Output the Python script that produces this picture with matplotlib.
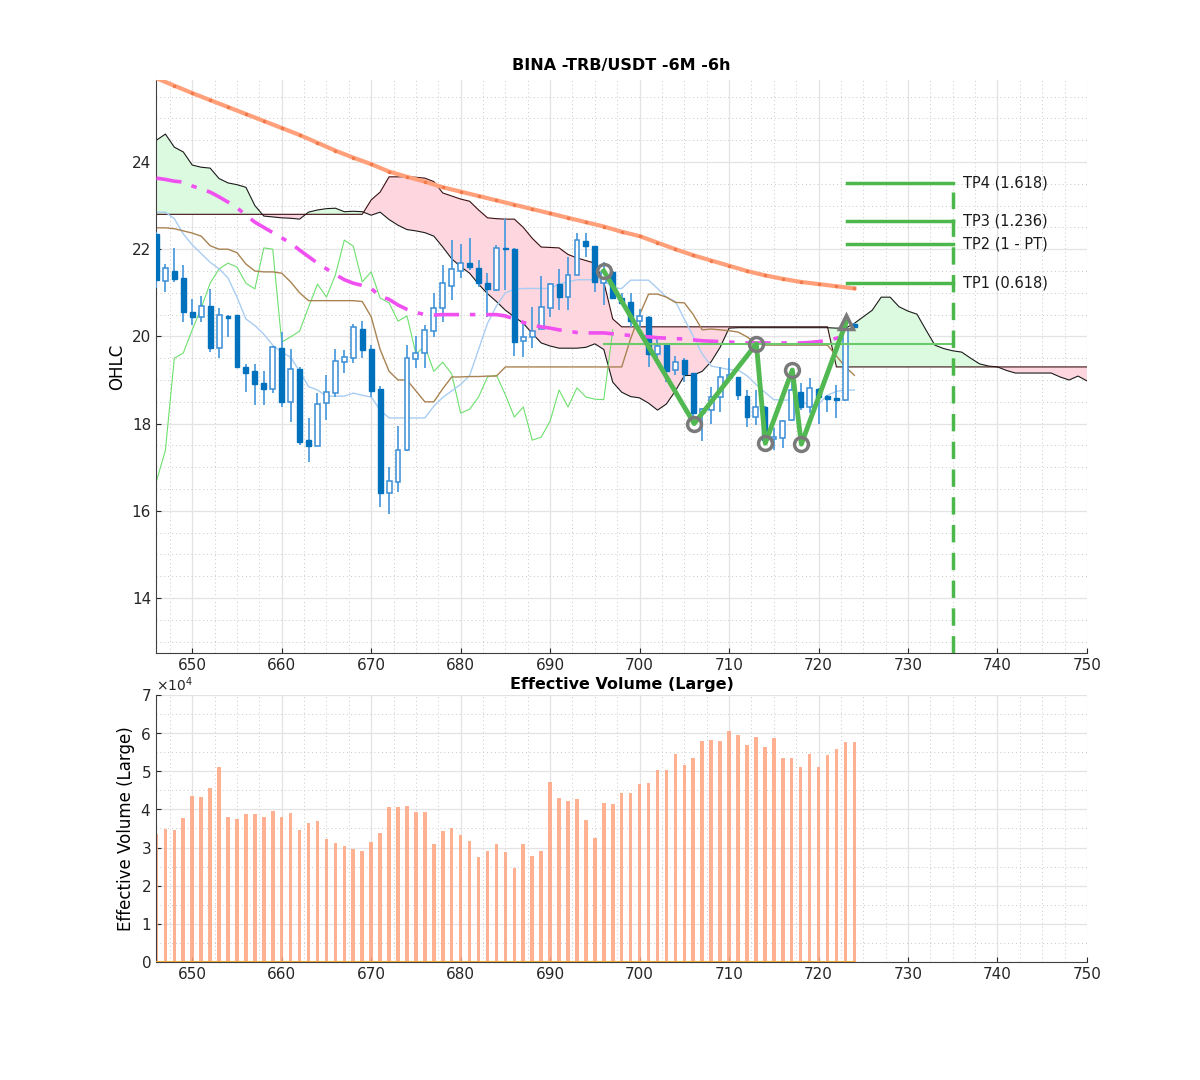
import matplotlib
matplotlib.use("Agg")
import matplotlib.pyplot as plt
import numpy as np
from matplotlib.ticker import MultipleLocator, ScalarFormatter

# candles 646..724
bar_x = np.arange(646, 725)
opens = [22.35, 21.27, 21.5, 21.34, 20.56, 20.45, 20.7, 19.73, 20.47, 20.49,
         19.3, 19.2, 18.93, 18.79, 19.73, 18.5, 19.25, 17.62, 17.49, 18.47,
         18.7, 19.41, 19.5, 20.17, 19.71, 18.79, 16.41, 16.66, 17.39, 19.48,
         19.62, 20.12, 20.65, 21.16, 21.5, 21.68, 21.57, 21.22, 21.06, 22.03,
         22.0, 19.9, 19.99, 20.17, 20.65, 21.2, 20.9, 21.41, 22.19, 22.07,
         21.22, 21.48, 20.88, 20.79, 20.35, 20.45, 19.6, 19.8, 19.23, 19.46,
         19.16, 18.24, 18.31, 18.61, 19.05, 19.07, 18.63, 18.15, 18.38, 17.64,
         17.67, 18.08, 18.72, 18.38, 18.8, 18.63, 18.57, 18.54, 20.28]
highs = [22.4, 21.66, 22.03, 21.64, 20.86, 20.93, 21.09, 20.65, 20.48, 20.5,
         19.37, 19.37, 19.2, 19.77, 20.1, 19.71, 19.3, 18.13, 18.7, 19.11,
         19.71, 19.69, 20.28, 20.35, 19.8, 18.86, 17.0, 17.94, 19.8, 20.0,
         20.26, 21.0, 21.64, 22.21, 22.12, 22.26, 21.75, 21.45, 22.1, 22.69,
         22.02, 20.33, 20.67, 21.38, 21.22, 21.55, 21.82, 22.37, 22.37, 22.08,
         21.71, 21.5, 21.0, 21.0, 20.63, 20.46, 19.96, 19.82, 19.55, 19.5,
         19.17, 18.35, 18.84, 19.3, 19.5, 19.08, 18.77, 18.77, 18.4, 17.9,
         18.08, 19.0, 18.93, 19.05, 18.82, 18.66, 18.88, 20.26, 20.3]
lows = [21.1, 21.02, 21.25, 20.33, 20.26, 20.33, 19.64, 19.5, 19.99, 19.28,
        18.72, 18.43, 18.43, 18.7, 18.38, 18.04, 17.51, 17.12, 17.48, 18.08,
        18.61, 19.16, 19.39, 19.5, 18.61, 16.09, 15.93, 16.43, 17.38, 19.28,
        19.28, 19.99, 20.33, 20.83, 21.34, 21.52, 21.13, 20.45, 21.05, 21.06,
        19.55, 19.53, 19.73, 20.16, 20.45, 20.6, 20.6, 21.4, 21.82, 21.02,
        20.72, 20.85, 20.72, 20.22, 20.22, 19.3, 19.39, 18.95, 19.11, 18.95,
        18.0, 17.6, 18.0, 18.27, 19.04, 18.54, 17.92, 17.97, 17.55, 17.39,
        17.44, 18.07, 18.31, 18.24, 18.0, 18.27, 18.13, 18.52, 20.2]
closes = [21.3, 21.57, 21.32, 20.56, 20.45, 20.7, 19.73, 20.49, 20.43, 19.3,
          19.16, 18.9, 18.79, 19.76, 18.5, 19.25, 17.58, 17.49, 18.45, 18.72,
          19.44, 19.53, 20.22, 19.69, 18.75, 16.41, 16.68, 17.39, 19.5, 19.62,
          20.15, 20.65, 21.22, 21.55, 21.68, 21.59, 21.22, 21.09, 22.03, 22.0,
          19.87, 19.99, 20.12, 20.67, 21.2, 20.9, 21.41, 22.21, 22.07, 21.25,
          21.48, 20.88, 20.77, 20.35, 20.47, 19.6, 19.78, 19.2, 19.41, 19.14,
          18.24, 18.33, 18.61, 19.07, 19.11, 18.66, 18.15, 18.38, 17.62, 17.69,
          18.06, 18.77, 18.38, 18.82, 18.61, 18.56, 18.55, 20.15, 20.22]

volume = [3.35, 3.48, 3.46, 3.77, 4.36, 4.32, 4.57, 5.10, 3.79, 3.76,
          3.87, 3.88, 3.81, 3.95, 3.79, 3.90, 3.46, 3.64, 3.70, 3.22,
          3.13, 3.05, 2.97, 2.92, 3.15, 3.37, 4.06, 4.05, 4.08, 3.92,
          3.92, 3.08, 3.44, 3.52, 3.33, 3.17, 2.76, 2.92, 3.10, 2.87,
          2.47, 3.09, 2.79, 2.92, 4.71, 4.30, 4.23, 4.28, 3.72, 3.25,
          4.16, 4.14, 4.42, 4.44, 4.67, 4.69, 5.02, 5.03, 5.45, 5.17,
          5.36, 5.79, 5.83, 5.79, 6.05, 5.94, 5.69, 5.91, 5.63, 5.87,
          5.36, 5.34, 5.10, 5.45, 5.10, 5.43, 5.58, 5.76, 5.76]

# conversion line (light blue) and base line (brown), 646..724
tenkan = [22.85, 22.85, 22.7, 22.35, 22.1, 21.9, 21.7, 21.55, 21.34, 20.9,
          20.4, 20.25, 20.05, 19.8, 19.64, 19.52, 19.2, 18.85, 18.77, 18.63,
          18.63, 18.63, 18.7, 18.65, 18.61, 18.31, 18.13, 18.13, 18.13, 18.13,
          18.13, 18.4, 18.6, 18.75, 18.9, 19.1, 19.7, 20.3, 20.7, 21.0,
          21.08, 21.1, 21.1, 21.1, 21.1, 21.2, 21.25, 21.3, 21.3, 21.3,
          21.3, 21.1, 21.1, 21.29, 21.29, 21.29, 21.1, 20.9, 20.8, 20.4,
          20.0, 19.6, 19.32, 19.28, 19.24, 19.23, 19.1, 18.9, 18.72, 18.55,
          18.54, 18.54, 18.54, 18.4, 18.45, 18.65, 18.74, 18.77, 18.77]
kijun = [22.49, 22.49, 22.47, 22.42, 22.37, 22.3, 22.08, 22.0, 22.0, 21.92,
         21.66, 21.5, 21.48, 21.48, 21.45, 21.25, 21.0, 20.82, 20.82, 20.82,
         20.82, 20.82, 20.82, 20.8, 20.45, 19.7, 19.2, 19.0, 19.0, 18.75,
         18.5, 18.5, 18.8, 19.07, 19.07, 19.08, 19.08, 19.09, 19.09, 19.3,
         19.3, 19.3, 19.3, 19.3, 19.3, 19.3, 19.3, 19.3, 19.3, 19.3,
         19.3, 19.3, 19.3, 19.95, 20.5, 20.97, 20.97, 20.9, 20.78, 20.77,
         20.5, 20.15, 20.17, 20.15, 20.13, 20.1, 19.99, 19.85, 19.8, 19.8,
         19.8, 19.8, 19.8, 19.8, 19.8, 19.8, 19.55, 19.3, 19.11]

# magenta average 646..723
ma_mid = [23.63, 23.6, 23.56, 23.54, 23.45, 23.38, 23.31, 23.2, 23.08, 22.95,
          22.78, 22.62, 22.5, 22.38, 22.26, 22.14, 21.98, 21.83, 21.68, 21.55,
          21.42, 21.3, 21.22, 21.17, 21.1, 20.92, 20.85, 20.72, 20.62, 20.55,
          20.5, 20.49, 20.5, 20.5, 20.5, 20.5, 20.5, 20.5, 20.5, 20.47,
          20.4, 20.32, 20.26, 20.22, 20.19, 20.15, 20.12, 20.09, 20.08, 20.08,
          20.08, 20.06, 20.04, 20.02, 20.0, 19.99, 19.97, 19.96, 19.95, 19.94,
          19.92, 19.9, 19.89, 19.88, 19.87, 19.86, 19.85, 19.85, 19.85, 19.85,
          19.85, 19.85, 19.85, 19.86, 19.88, 19.91, 19.96, 20.0]

# orange long average, every second bar 646..724
ma_long_x = np.arange(646, 725, 2)
ma_long = [25.92, 25.75, 25.58, 25.42, 25.26, 25.1, 24.94, 24.78, 24.62, 24.44,
           24.26, 24.1, 23.95, 23.78, 23.66, 23.55, 23.42, 23.32, 23.22, 23.12,
           23.02, 22.92, 22.82, 22.72, 22.62, 22.52, 22.4, 22.3, 22.15, 22.0,
           21.86, 21.74, 21.62, 21.5, 21.4, 21.32, 21.25, 21.2, 21.15, 21.1]

# cloud 646..750
cloud_x = np.arange(646, 751)
span_a = [24.5, 24.64, 24.34, 24.23, 23.93, 23.88, 23.86, 23.62, 23.52, 23.48, 23.42,
          23.0, 22.76, 22.74, 22.72, 22.71, 22.69, 22.85, 22.9, 22.93, 22.94, 22.86, 22.87, 22.86,
          22.78, 22.85, 22.68, 22.55, 22.45, 22.42, 22.38, 22.3, 22.05, 21.78, 21.6, 21.45,
          21.2, 20.98, 20.8, 20.6, 20.45, 20.3, 20.07, 19.85, 19.78, 19.73, 19.73, 19.73,
          19.75, 19.83, 19.7, 18.95, 18.72,
          18.62, 18.59, 18.47, 18.31, 18.45, 18.75, 19.1, 19.11, 19.2, 19.42, 19.75, 20.19,
          20.2, 20.2, 20.2, 20.2, 20.2, 20.2, 20.2, 20.2, 20.2, 20.2, 20.2, 20.19, 20.19,
          20.3, 20.45, 20.6, 20.9, 20.9, 20.68, 20.58, 20.51, 20.15, 19.8, 19.72, 19.67,
          19.64, 19.5, 19.37, 19.32, 19.3, 19.22, 19.16, 19.16, 19.16, 19.16, 19.16, 19.07,
          19.0, 19.09, 18.98]
span_b = ([22.8] * 24 +
          [23.13, 23.31, 23.66, 23.66, 23.66, 23.65, 23.63, 23.55, 23.29, 23.22, 23.15,
           23.1, 22.9, 22.72, 22.7, 22.69, 22.69, 22.5, 22.25, 22.05, 22.04, 22.03, 21.88,
           21.8, 21.74, 21.68, 21.25, 20.4, 20.22] +
          [20.22] * 23 + [19.3] * 29)

# zigzag pattern and targets
zz_x = [696, 706.1, 713.05, 714.05, 717.07, 718.08, 723.1]
zz_y = [21.5, 18.0, 19.83, 17.55, 19.23, 17.53, 20.33]
entry_level = 19.82
tp_levels = [23.52, 22.65, 22.12, 21.22]
tp_labels = ["TP4 (1.618)", "TP3 (1.236)", "TP2 (1 - PT)", "TP1 (0.618)"]
tp_x0, tp_x1 = 723.2, 735.0

opens, highs, lows, closes = map(np.array, (opens, highs, lows, closes))
span_a, span_b = np.array(span_a), np.array(span_b)

fig = plt.figure(figsize=(12, 10.8), dpi=100)
ax = fig.add_axes([0.13, 0.3954, 0.7758, 0.5305])
axv = fig.add_axes([0.13, 0.1093, 0.7758, 0.2472])


def style_axes(a):
    a.set_axisbelow(True)
    a.xaxis.set_major_locator(MultipleLocator(10))
    a.xaxis.set_minor_locator(MultipleLocator(2.5))
    a.grid(which='major', color='#e3e3e3', lw=0.9)
    a.grid(which='minor', color='#c8c8c8', lw=0.7, ls=(0, (1, 3)))
    a.tick_params(which='both', direction='in', labelsize=11, colors='#262626')
    a.tick_params(which='minor', length=0)
    for s in ('top', 'right'):
        a.spines[s].set_visible(False)
    for s in ('left', 'bottom'):
        a.spines[s].set_color('#404040')
        a.spines[s].set_linewidth(0.8)
    a.set_xlim(645.95, 750)


# cloud
ax.fill_between(cloud_x, span_a, span_b, where=span_a >= span_b, interpolate=True,
                color='#dcfadf', lw=0, zorder=1)
ax.fill_between(cloud_x, span_a, span_b, where=span_a < span_b, interpolate=True,
                color='#fdd6e0', lw=0, zorder=1)
ax.plot(cloud_x, span_a, color='#1a1a1a', lw=0.8, zorder=1.5)
ax.plot(cloud_x, span_b, color='#3a1010', lw=0.8, zorder=1.5)

# lagging line = closes shifted back 26 bars
ax.plot(bar_x[:52], closes[26:78], color='#6ee06e', lw=0.8, zorder=2)
ax.plot(bar_x, tenkan, color='#a9cdf2', lw=1.0, zorder=2)
ax.plot(bar_x, kijun, color='#a98352', lw=1.0, zorder=2)

# candles
up = closes >= opens
lo = np.minimum(opens, closes)
h = np.maximum(np.abs(closes - opens), 0.03)
ax.vlines(bar_x, lows, highs, color='#4f9ddd', lw=1.3, zorder=3)
ax.bar(bar_x[~up], h[~up], bottom=lo[~up], width=0.55, color='#0072bd',
       edgecolor='#0072bd', lw=1, zorder=4)
ax.bar(bar_x[up], h[up], bottom=lo[up], width=0.55, color='white',
       edgecolor='#3a8ed6', lw=1.1, zorder=4)

# averages
ax.plot(bar_x[:len(ma_mid)], ma_mid, color='#f050f0', lw=2.6,
        ls=(0, (7, 3, 1.5, 3)), zorder=5)
ax.plot(ma_long_x, ma_long, color='#ffa07a', lw=3, zorder=5)
ax.plot(ma_long_x, ma_long, ls='none', marker='.', ms=3, color='#f07848', zorder=5)

# zigzag + targets
ax.plot([zz_x[0], tp_x1], [entry_level, entry_level], color='#6acb6a', lw=1.5, zorder=5)
ax.plot(zz_x, zz_y, color='#52b952', lw=3.5, zorder=6)
ax.plot(zz_x[:-1], zz_y[:-1], ls='none', marker='o', ms=10, mfc='none',
        mec='#7a7a7a', mew=2.5, zorder=7)
ax.plot(zz_x[-1:], zz_y[-1:], ls='none', marker='^', ms=10, mfc='none',
        mec='#7a7a7a', mew=2.5, zorder=7)
for lvl, lab in zip(tp_levels, tp_labels):
    ax.plot([tp_x0, tp_x1], [lvl, lvl], color='#4cb84c', lw=2.5, zorder=6)
    ax.text(tp_x1 + 1.1, lvl, lab, va='center', ha='left', fontsize=10.5, color='#1a1a1a')
ax.plot([tp_x1, tp_x1], [12.74, tp_levels[0] - 0.2], color='#4cb84c', lw=2.5,
        ls=(0, (5, 3)), zorder=6)

style_axes(ax)
ax.set_ylim(12.74, 25.88)
ax.yaxis.set_major_locator(MultipleLocator(2))
ax.yaxis.set_minor_locator(MultipleLocator(0.5))
ax.set_ylabel('OHLC', fontsize=12)
ax.set_title('BINA -TRB/USDT -6M -6h', fontsize=11.5, fontweight='bold', pad=7)

# volume
axv.bar(bar_x, np.array(volume) * 1e4, width=0.4, color='#ffa47f', alpha=0.85, zorder=2)
axv.plot([646, 724], [0, 0], color='#e8a838', lw=1.5, zorder=3)
style_axes(axv)
axv.set_ylim(0, 7e4)
axv.yaxis.set_major_locator(MultipleLocator(1e4))
axv.yaxis.set_minor_locator(MultipleLocator(0.5e4))
fmt = ScalarFormatter(useMathText=True)
fmt.set_powerlimits((4, 4))
axv.yaxis.set_major_formatter(fmt)
axv.yaxis.get_offset_text().set_fontsize(10)
axv.set_ylabel('Effective Volume (Large)', fontsize=12)
axv.set_title('Effective Volume (Large)', fontsize=11.5, fontweight='bold', pad=4)

fig.savefig('out.png', dpi=100)
